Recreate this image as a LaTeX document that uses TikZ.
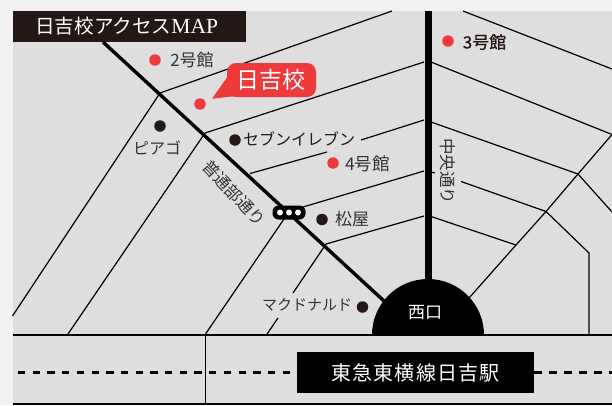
\documentclass[tikz,border=0pt]{standalone}
\usepackage{fontspec}
\setmainfont{Noto Sans CJK JP}
\newfontfamily\latinserif{Liberation Serif}
\definecolor{pagebg}{HTML}{F2F2F2}
\definecolor{mapbg}{HTML}{DEDEDE}
\definecolor{ink}{HTML}{231815}
\definecolor{textgray}{HTML}{333333}
\definecolor{redspot}{HTML}{EF3A3D}
\newcommand{\fs}[1]{\fontsize{#1}{#1}\selectfont}
\tikzset{
  thinroad/.style={draw=black,line width=1.2pt},
  mainroad/.style={draw=black,line width=3.4pt},
  redpt/.style={circle,fill=redspot,minimum size=11.5pt,inner sep=0pt},
  blkpt/.style={circle,fill=ink,minimum size=11.5pt,inner sep=0pt},
  lbl/.style={text=textgray,inner sep=0pt,anchor=center},
  wlbl/.style={text=white,inner sep=0pt,anchor=center},
}
\begin{document}
\begin{tikzpicture}[x=1pt,y=-1pt]
\useasboundingbox (0,0) rectangle (612,405);
\fill[pagebg] (0,0) rectangle (612,405);
\fill[mapbg] (12.5,11) rectangle (612,405);
% junctions
\coordinate (j1) at (160,93);
\coordinate (j2) at (205,133);
\coordinate (j3) at (326,244);
\coordinate (c1) at (578,174);
\coordinate (c2) at (546,211.5);
\coordinate (c3) at (516,245);
% thin roads
\draw[thinroad] (j1) -- (392,11);
\draw[thinroad] (j2) -- (424,62);
\draw[thinroad] (250,173.5) -- (327,152);
\draw[thinroad] (361,140) -- (424,120);
\draw[thinroad] (303,207) -- (424,171) (431,172) -- (435,173);
\draw[thinroad] (j3) -- (424,216);
\draw[thinroad] (j1) -- (12.5,316);
\draw[thinroad] (j2) -- (68,334);
\draw[thinroad] (284,219) -- (205.5,334);
\draw[thinroad] (j3) -- (293,293) (278,318) -- (267,334);
\draw[thinroad] (463,11) -- (612,69);
\draw[thinroad] (431,62) -- (612,134.5);
\draw[thinroad] (431,122) -- (c1) -- (612,212);
\draw[thinroad] (612,134.5) -- (c1) -- (c2) -- (c3) -- (469,298);
\draw[thinroad] (461,181.5) -- (c2) -- (589,253) -- (589,334);
\draw[thinroad] (431,216.5) -- (c3);
% main roads
\draw[mainroad] (103,42) -- (384,301);
\draw[draw=black,line width=7pt] (428,11) -- (428,285);
% station
\fill[black] (372,335) arc[start angle=180,end angle=360,x radius=56,y radius=56] -- cycle;
\draw[draw=black,line width=1.7pt] (12.5,334.7) -- (612,334.7);
\draw[thinroad] (12.5,404) -- (612,404);
\draw[thinroad] (205.5,334) -- (205.5,404);
\draw[draw=black,line width=3pt,dash pattern=on 7.3pt off 7.4pt] (18,372.5) -- (297,372.5);
\draw[draw=black,line width=3pt,dash pattern=on 8pt off 7pt] (534,372.5) -- (612,372.5);
\node[fill=black,minimum width=237pt,minimum height=41pt,inner sep=0pt,wlbl] (eki) at (415.5,372.5) {\fs{20}\addfontfeature{LetterSpace=6}東急東横線日吉駅};
\node[wlbl] (nishi) at (425,313) {\fs{17}西口};
% title
\node[fill=ink,minimum width=233pt,minimum height=31pt,inner sep=0pt] (titlebox) at (129.5,26.5) {};
\node[wlbl,anchor=west] (title) at (35,26.5) {\fs{19.6}日吉校アクセス{\latinserif\fs{21.5}MAP}};
% callout
\fill[redspot,rounded corners=9pt] (227,63) rectangle (316,97);
\fill[redspot] (212,98.7) -- (228,76) -- (236,96) -- cycle;
\node[wlbl] (school) at (271,80) {\fs{23}日吉校};
% points
\node[redpt] (p2) at (155,60) {};
\node[redpt] (p0) at (200,104) {};
\node[redpt] (p3) at (448,41) {};
\node[redpt] (p4) at (333,163) {};
\node[blkpt] (b1) at (160,126) {};
\node[blkpt] (b2) at (235,140) {};
\node[blkpt] (b3) at (322,219.5) {};
\node[blkpt] (b4) at (362.5,307) {};
% labels
\node[lbl] (t2) at (192,60.5) {\fs{17}2号館};
\node[lbl,text=ink] (t3) at (484.5,42) {\fs{17}\addfontfeature{FakeBold=0.6}3号館};
\node[lbl] (t4) at (367.5,163.5) {\fs{17.5}4号館};
\node[lbl] (t5) at (157,148) {\fs{16}ピアゴ};
\node[lbl,text=ink] (t6) at (299,139) {\fs{16}セブンイレブン};
\node[lbl] (t7) at (352,219) {\fs{17}松屋};
\node[lbl] (t8) at (307,305) {\fs{15}マクドナルド};
\node[lbl,rotate=-47] (t9) at (234,193) {\fs{16.5}普通部通り};
\node[lbl,rotate=-90] (t10) at (448,171) {\fs{16.5}中央通り};
% crossing symbol
\node[fill=black,rounded corners=6pt,minimum width=33pt,minimum height=14pt,inner sep=0pt] (cross) at (289,212.5) {};
\foreach \xx/\nm in {280/a,289/b,298/c}
  \node[circle,fill=white,minimum size=6pt,inner sep=0pt] (d\nm) at (\xx,212.5) {};
\end{tikzpicture}
\end{document}
